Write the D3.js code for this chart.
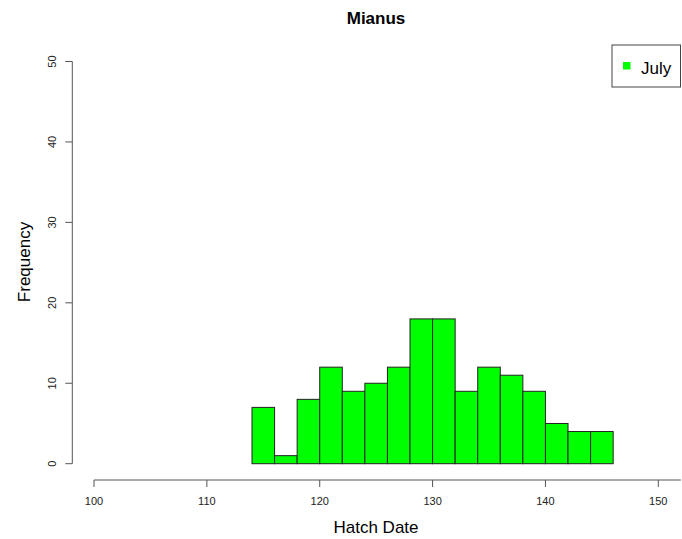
<!DOCTYPE html>
<html>
<head>
<meta charset="utf-8">
<script src="https://cdn.jsdelivr.net/npm/d3@7"></script>
<style>
  body { margin: 0; background: #fff; }
  svg { display: block; }
</style>
</head>
<body>
<div id="chart"></div>
<script>
// histogram bins (2-day width) and counts
const binStarts = [114, 116, 118, 120, 122, 124, 126, 128, 130, 132, 134, 136, 138, 140, 142, 144];
const binWidth = 2;
const counts = [7, 1, 8, 12, 9, 10, 12, 18, 18, 9, 12, 11, 9, 5, 4, 4];
const xTicks = [100, 110, 120, 130, 140, 150];
const yTicks = [0, 10, 20, 30, 40, 50];
const legendLabels = ["July"];

const W = 682, H = 539;
const fontFam = "Arial, 'Liberation Sans', sans-serif";
const axisColor = "#555";
const barColor = "#00ff00";

const svg = d3.select("#chart").append("svg")
  .attr("width", W).attr("height", H)
  .style("font-family", fontFam);

const x = d3.scaleLinear().domain([100, 150]).range([94, 658.3]);
const y = d3.scaleLinear().domain([0, 50]).range([463.7, 61.5]);

// bars
svg.append("g")
  .selectAll("rect")
  .data(binStarts)
  .join("rect")
  .attr("x", (d) => x(d))
  .attr("y", (d, i) => y(counts[i]))
  .attr("width", (d) => x(d + binWidth) - x(d))
  .attr("height", (d, i) => y(0) - y(counts[i]))
  .attr("fill", barColor)
  .attr("stroke", "#222")
  .attr("stroke-width", 1);

// x axis
const xAxisY = 480;
const xg = svg.append("g").attr("transform", `translate(0,${xAxisY})`);
xg.append("line")
  .attr("x1", x(100)).attr("x2", x(152))
  .attr("y1", 0).attr("y2", 0)
  .attr("stroke", axisColor);
xg.selectAll(".tk").data(xTicks).join("line")
  .attr("x1", (d) => x(d)).attr("x2", (d) => x(d))
  .attr("y1", 0).attr("y2", 7)
  .attr("stroke", axisColor);
xg.selectAll(".lb").data(xTicks).join("text")
  .attr("x", (d) => x(d))
  .attr("y", 25)
  .attr("text-anchor", "middle")
  .attr("font-size", "11px")
  .attr("fill", "#222")
  .text((d) => d);

// y axis
const yAxisX = 72.3;
const yg = svg.append("g").attr("transform", `translate(${yAxisX},0)`);
yg.append("line")
  .attr("x1", 0).attr("x2", 0)
  .attr("y1", y(0)).attr("y2", y(50))
  .attr("stroke", axisColor);
yg.selectAll(".tk").data(yTicks).join("line")
  .attr("x1", 0).attr("x2", -7)
  .attr("y1", (d) => y(d)).attr("y2", (d) => y(d))
  .attr("stroke", axisColor);
yg.selectAll(".lb").data(yTicks).join("text")
  .attr("transform", (d) => `translate(-16,${y(d)}) rotate(-90)`)
  .attr("text-anchor", "middle")
  .attr("font-size", "11px")
  .attr("fill", "#222")
  .text((d) => d);

// titles
svg.append("text")
  .attr("x", 376).attr("y", 24)
  .attr("text-anchor", "middle")
  .attr("font-size", "17px")
  .attr("font-weight", "bold")
  .text("Mianus");

svg.append("text")
  .attr("x", 376).attr("y", 533)
  .attr("text-anchor", "middle")
  .attr("font-size", "17px")
  .text("Hatch Date");

svg.append("text")
  .attr("transform", "translate(30,262) rotate(-90)")
  .attr("text-anchor", "middle")
  .attr("font-size", "17px")
  .text("Frequency");

// legend
const lg = svg.append("g");
lg.append("rect")
  .attr("x", 612).attr("y", 45)
  .attr("width", 68.5).attr("height", 42)
  .attr("fill", "#fff")
  .attr("stroke", "#444");
legendLabels.forEach((lab, i) => {
  lg.append("rect")
    .attr("x", 623).attr("y", 62 + i * 20)
    .attr("width", 7.5).attr("height", 7.5)
    .attr("fill", barColor);
  lg.append("text")
    .attr("x", 641).attr("y", 74 + i * 20)
    .attr("font-size", "17px")
    .text(lab);
});
</script>
</body>
</html>
